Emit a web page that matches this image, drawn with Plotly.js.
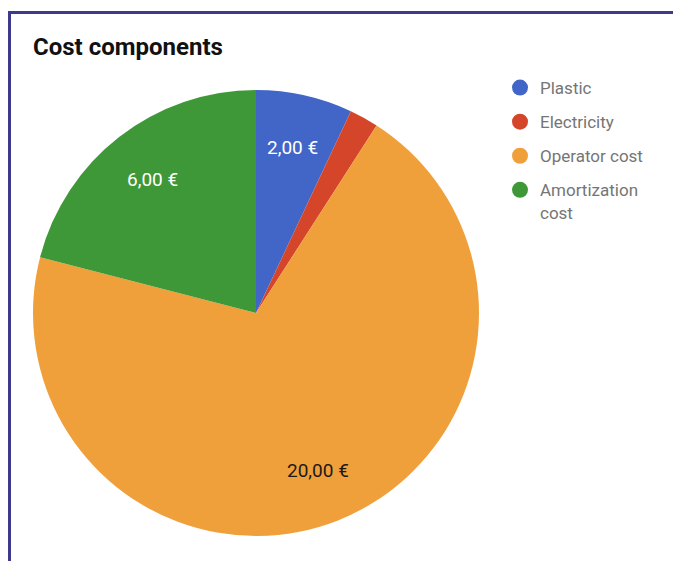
<!DOCTYPE html>
<html>
<head>
<meta charset="utf-8">
<script src="https://cdn.plot.ly/plotly-3.0.1.min.js"></script>
<style>
  html, body { margin: 0; padding: 0; background: #fff; }
  #wrap { position: relative; width: 673px; height: 561px; overflow: hidden; }
  #chart { width: 673px; height: 561px; }
  #frame { position: absolute; left: 8px; top: 11px; right: -10px; bottom: -10px;
           border-top: 3px solid #3d3a8e; border-left: 3px solid #3d3a8e; pointer-events: none; }
</style>
</head>
<body>
<div id="wrap">
  <div id="chart"></div>
  <div id="frame"></div>
</div>
<script>
const categories = ["Plastic", "Electricity", "Operator cost", "Amortization cost"];
const legendNames = ["Plastic", "Electricity", "Operator cost", "Amortization<br>cost"];
const values = [2.0, 0.6, 20.0, 6.0];
const showValueLabel = [true, false, true, true];
const colors = ["#4266c8", "#d5452a", "#f0a03b", "#3f9837"];
const labelColors = ["#ffffff", "#ffffff", "#1a1a1a", "#ffffff"];

const W = 673, H = 561;
const px = v => v / W, py = v => 1 - v / H;

// pie geometry (pixels)
const pieLeft = 33, pieRight = 479, pieTop = 90, pieBottom = 536;
const cx = (pieLeft + pieRight) / 2, cy = (pieTop + pieBottom) / 2;
const R = (pieRight - pieLeft) / 2;
const labelRadius = 0.76;

const fmt = v => v.toFixed(2).replace(".", ",") + " €";

const traces = [{
  type: "pie",
  labels: categories,
  values: values,
  textinfo: "none",
  sort: false,
  direction: "clockwise",
  rotation: 0,
  marker: { colors: colors, line: { width: 0 } },
  domain: { x: [px(pieLeft), px(pieRight)], y: [py(pieBottom), py(pieTop)] },
  showlegend: false,
  hoverinfo: "label+value+percent"
}];

categories.forEach((c, i) => {
  traces.push({
    type: "scatter", mode: "markers",
    x: [null], y: [null],
    name: legendNames[i],
    legendgroup: "g" + i,
    marker: { symbol: "circle", size: 17, color: colors[i] },
    showlegend: true, hoverinfo: "skip"
  });
});

// value labels placed at the middle angle of each slice
const total = values.reduce((a, b) => a + b, 0);
const annotations = [];
let cum = 0;
values.forEach((v, i) => {
  const mid = (cum + v / 2) / total * 2 * Math.PI;
  cum += v;
  if (!showValueLabel[i]) return;
  const x = cx + labelRadius * R * Math.sin(mid);
  const y = cy - labelRadius * R * Math.cos(mid);
  annotations.push({
    xref: "paper", yref: "paper", x: px(x), y: py(y),
    xanchor: "center", yanchor: "middle", showarrow: false,
    text: fmt(v),
    font: { family: "Roboto, Arial, sans-serif", size: 19, color: labelColors[i] }
  });
});

const layout = {
  width: W, height: H,
  margin: { l: 0, r: 0, t: 0, b: 0 },
  paper_bgcolor: "#ffffff", plot_bgcolor: "#ffffff",
  title: {
    text: "<b>Cost components</b>",
    font: { family: "Roboto, Arial, sans-serif", size: 24, color: "#111111" },
    x: px(33), xanchor: "left", y: py(47), yanchor: "middle"
  },
  xaxis: { visible: false }, yaxis: { visible: false },
  showlegend: true,
  annotations: annotations,
  legend: {
    x: px(500), xanchor: "left", y: py(70), yanchor: "top",
    font: { family: "Roboto, Arial, sans-serif", size: 17, color: "#757575" },
    valign: "top", tracegroupgap: 9, bgcolor: "rgba(0,0,0,0)"
  }
};

Plotly.newPlot("chart", traces, layout, { displayModeBar: false, staticPlot: true });
</script>
</body>
</html>
